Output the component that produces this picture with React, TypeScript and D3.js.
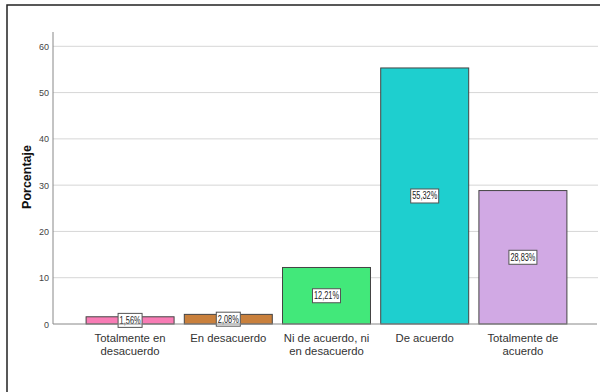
import React from "react";
import * as d3 from "d3";

const categories = [
  "Totalmente en\ndesacuerdo",
  "En desacuerdo",
  "Ni de acuerdo, ni\nen desacuerdo",
  "De acuerdo",
  "Totalmente de\nacuerdo",
];
const values = [1.56, 2.08, 12.21, 55.32, 28.83];
const valueLabels = ["1,56%", "2,08%", "12,21%", "55,32%", "28,83%"];
const colors = ["#f87cb5", "#c9803c", "#42e87a", "#1ecfcf", "#d1a9e4"];
const yTicks = [0, 10, 20, 30, 40, 50, 60];

export default function App() {
  const W = 600, H = 392;
  const x = d3
    .scaleBand<number>()
    .domain(d3.range(categories.length))
    .range([53, 600])
    .paddingInner(0.104)
    .paddingOuter(0.337);
  const y = d3.scaleLinear().domain([0, 60]).range([324, 46.3]);
  const font = "'Liberation Sans', Arial, sans-serif";

  return (
    <svg
      width={W}
      height={H}
      style={{ position: "absolute", left: 0, top: 0, background: "#fff" }}
      fontFamily={font}
    >
      <rect x={7} y={5} width={620} height={420} fill="#fff" stroke="#222" strokeWidth={1.5} />
      {yTicks.slice(1).map((t) => (
        <line key={t} x1={53} x2={598} y1={y(t)} y2={y(t)} stroke="#d6d6d6" strokeWidth={1} />
      ))}
      {values.map((v, i) => {
        const bx = x(i)!;
        const bw = x.bandwidth();
        const top = y(v);
        const mid = (top + y(0)) / 2;
        const bwBox = valueLabels[i].length > 5 ? 28 : 24;
        return (
          <g key={i}>
            <rect x={bx} y={top} width={bw} height={y(0) - top} fill={colors[i]} stroke="#444" strokeWidth={1} />
            <rect x={bx + bw / 2 - bwBox / 2} y={mid - 7} width={bwBox} height={14} fill="#fff" stroke="#555" strokeWidth={1} />
            <text
              x={bx + bw / 2}
              y={mid + 3.5}
              textAnchor="middle"
              fontSize={10}
              fill="#222"
              textLength={bwBox - 3}
              lengthAdjust="spacingAndGlyphs"
            >
              {valueLabels[i]}
            </text>
          </g>
        );
      })}
      <line x1={53} x2={597} y1={y(0)} y2={y(0)} stroke="#888" strokeWidth={1} />
      <line x1={53} x2={53} y1={32} y2={y(0)} stroke="#888" strokeWidth={1} />
      {yTicks.map((t) => (
        <text key={t} x={49} y={y(t) + 3.5} textAnchor="end" fontSize={9} fill="#444">
          {t}
        </text>
      ))}
      {categories.map((c, i) => (
        <text key={i} x={x(i)! + x.bandwidth() / 2} y={342} textAnchor="middle" fontSize={11.3} fill="#333">
          {c.split("\n").map((line, j) => (
            <tspan key={j} x={x(i)! + x.bandwidth() / 2} dy={j === 0 ? 0 : 12.5}>
              {line}
            </tspan>
          ))}
        </text>
      ))}
      <text
        transform={`translate(31,177) rotate(-90)`}
        textAnchor="middle"
        fontSize={12.5}
        fontWeight="bold"
        fill="#111"
      >
        Porcentaje
      </text>
    </svg>
  );
}
